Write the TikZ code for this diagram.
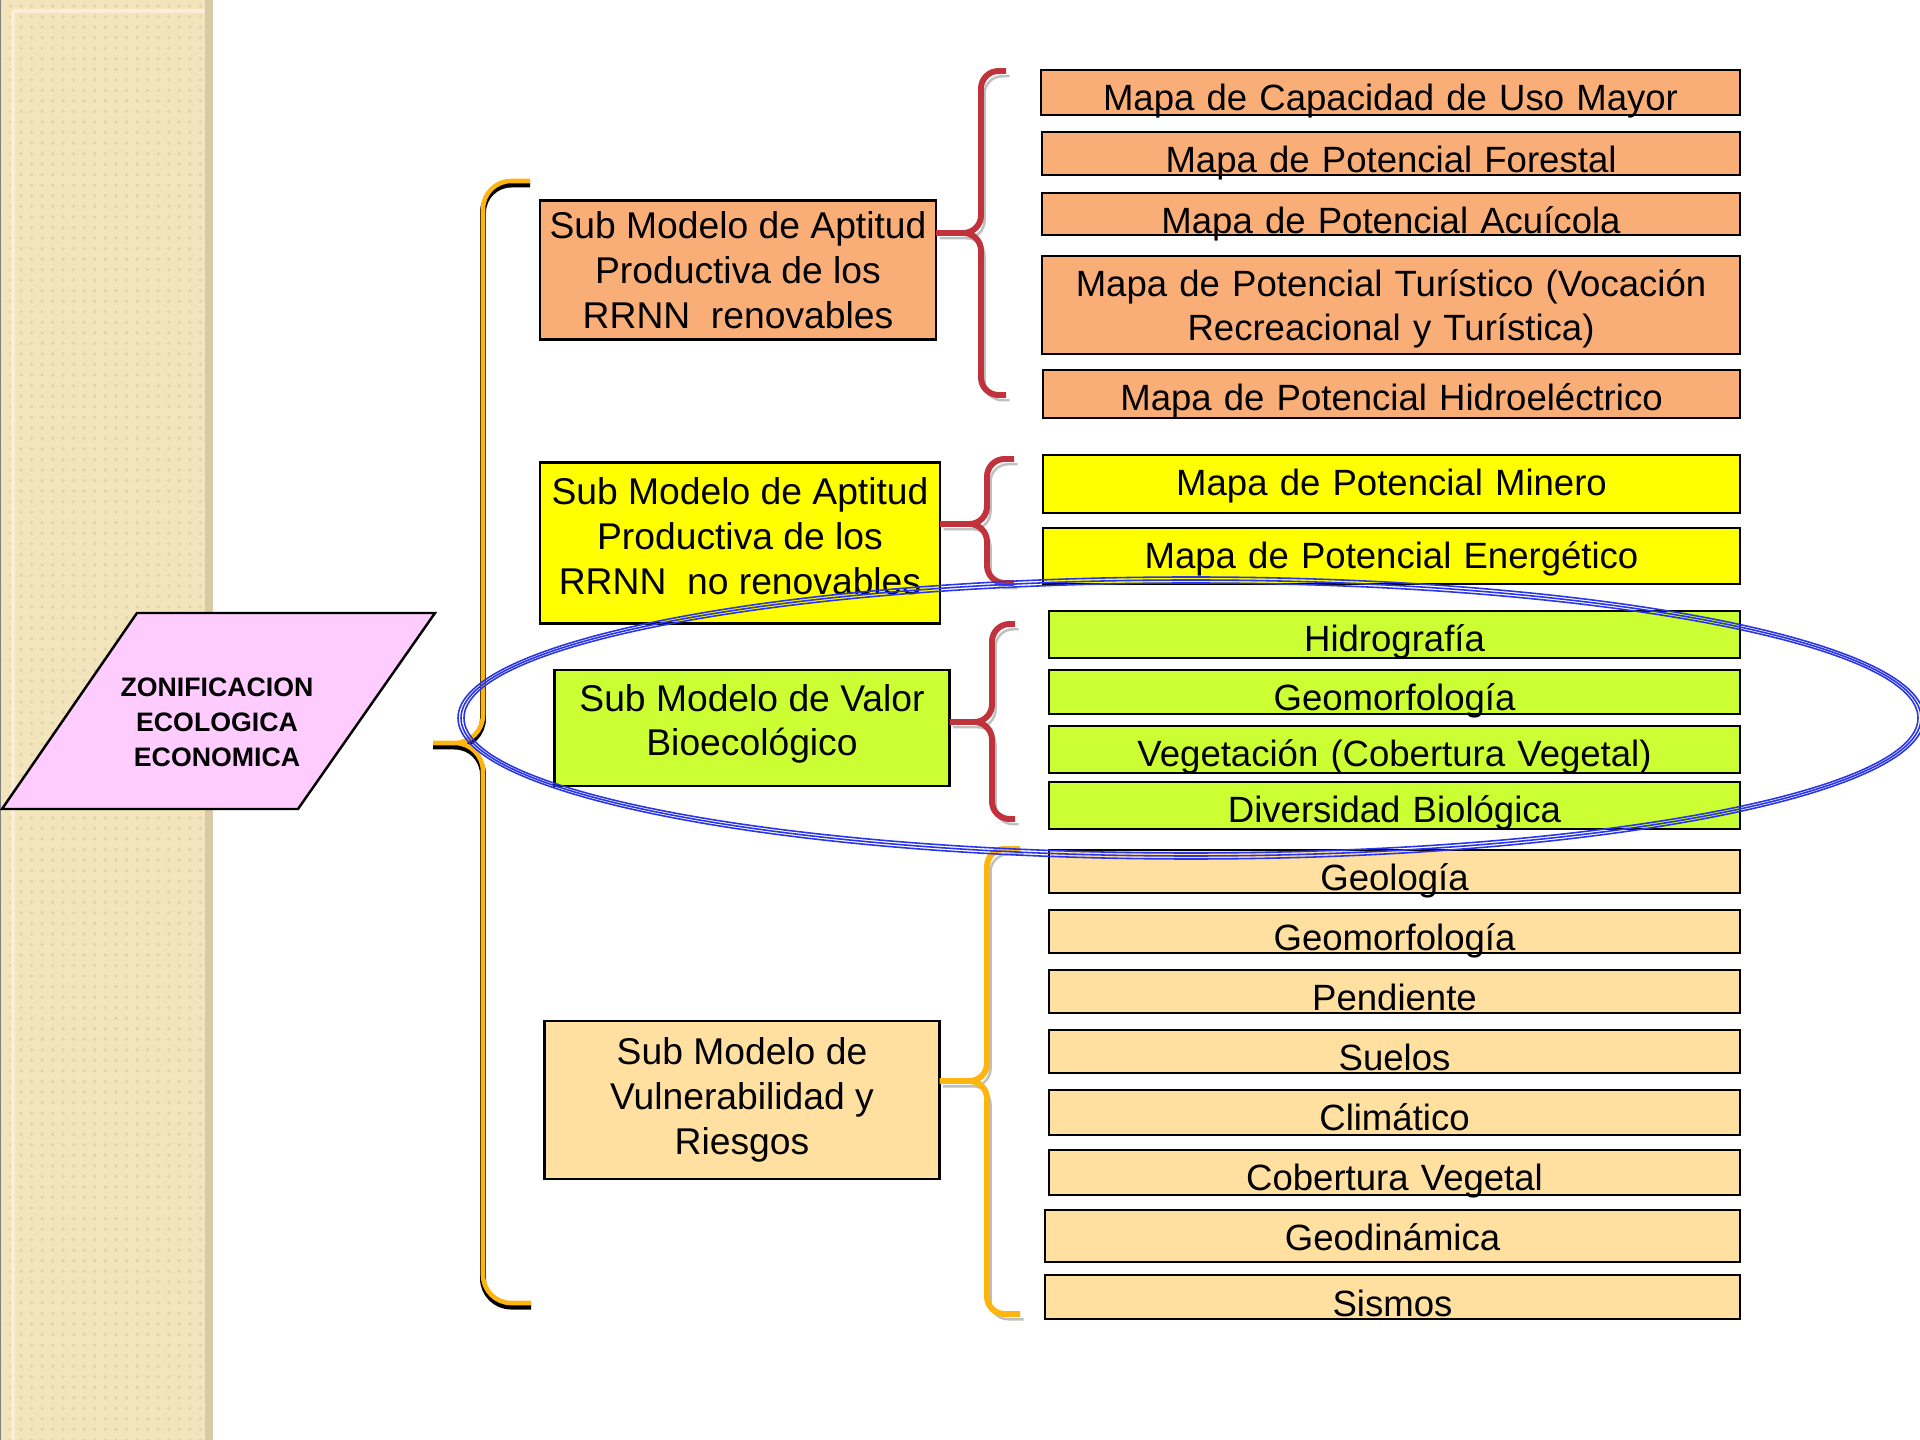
\documentclass[tikz,border=0pt]{standalone}
\usepackage{fontspec}
\setmainfont{Liberation Sans}
\usetikzlibrary{patterns}

\definecolor{salmon}{HTML}{F9AE78}
\definecolor{amarillo}{HTML}{FFFF00}
\definecolor{verde}{HTML}{CCFF33}
\definecolor{crema}{HTML}{FFE0A0}
\definecolor{rosa}{HTML}{FFCCFF}
\definecolor{rojo}{HTML}{C0323C}
\definecolor{naranja}{HTML}{FFB50F}
\definecolor{azul}{HTML}{2A35E8}
\definecolor{papel}{HTML}{F2E5BC}
\definecolor{papelborde}{HTML}{D8CBA4}

\begin{document}
\begin{tikzpicture}[x=0.1mm, y=-0.1mm, line width=0.7pt,
    font=\fontsize{10.6}{12.8}\selectfont,
    submodelo/.style={draw, align=center, inner sep=0pt, outer sep=0pt},
    mapa/.style={draw, align=center, anchor=north west, inner xsep=0pt, inner ysep=0pt,
        outer sep=0pt, text height=4.1mm, font=\fontsize{10.4}{12.5}\selectfont},
    llaveroja/.style={draw=rojo, line width=1.7pt, rounded corners=5pt,
        preaction={draw=black, opacity=.25, transform canvas={shift={(1pt,-1.5pt)}}}},
    llavenaranja/.style={llaveroja, draw=naranja},
    llavegrande/.style={draw=naranja, line width=1.3pt, rounded corners=8pt,
        preaction={draw=black, line width=1.7pt, transform canvas={shift={(0pt,-1pt)}}}},
    ovalo/.style={draw=azul, line width=0.45pt}]
    \useasboundingbox (0,0) rectangle (1920,1440);

    % Franja.
    \fill[papel] (0,0) rectangle (213,1440);
    \fill[pattern=dots, pattern color=papelborde!70!papel] (0,0) rectangle (205,1440);
    \fill[papelborde] (205,0) rectangle (213,1440);
    \draw[orange!15!white, line width=1pt] (13,11) -- (13,1440);
    \draw[orange!15!white, line width=1pt] (13,11) -- (205,11);
    \draw[gray, line width=.5pt] (0.5,0) -- (0.5,1440);

    % ZEE.
    \filldraw[fill=rosa] (2,809) -- (137,613) -- (435,613) -- (298,809) -- cycle;
    \node[font=\bfseries\fontsize{7.6}{10}\selectfont, align=center] (zee) at (217,722)
        {ZONIFICACION\\ECOLOGICA\\ECONOMICA};

    % Sub modelos.
    \node[submodelo, fill=salmon, minimum width=39.6mm, minimum height=13.9mm] (sa) at (738,270)
        {Sub Modelo de Aptitud\\Productiva de los\\RRNN\ \ renovables};
    \node[submodelo, fill=amarillo, minimum width=40mm, minimum height=16.1mm, text depth=1.4mm] (sb) at (740,543)
        {Sub Modelo de Aptitud\\Productiva de los\\RRNN\ \ no renovables};
    \node[submodelo, fill=verde, minimum width=39.5mm, minimum height=11.6mm, text depth=1.6mm] (sc) at (752,728)
        {Sub Modelo de Valor\\Bioecológico};
    \node[submodelo, fill=crema, minimum width=39.5mm, minimum height=15.8mm] (sd) at (742,1100)
        {Sub Modelo de\\Vulnerabilidad y\\Riesgos};

    % Mapas.
    \foreach \nm/\xl/\yt/\yb/\col/\txt in {
        m1/1041/70/115/salmon/{Mapa de Capacidad de Uso Mayor},
        m2/1042/132/175/salmon/{Mapa de Potencial Forestal},
        m3/1042/193/235/salmon/{Mapa de Potencial Acuícola},
        m4/1042/256/354/salmon/{Mapa de Potencial Turístico (Vocación\\Recreacional y Turística)},
        m5/1043/370/418/salmon/{Mapa de Potencial Hidroeléctrico},
        m6/1043/455/513/amarillo/{Mapa de Potencial Minero},
        m7/1043/528/584/amarillo/{Mapa de Potencial Energético},
        g1/1049/611/658/verde/{Hidrografía},
        g2/1049/670/714/verde/{Geomorfología},
        g3/1049/726/773/verde/{Vegetación (Cobertura Vegetal)},
        g4/1049/782/829/verde/{Diversidad Biológica},
        v1/1049/850/893/crema/{Geología},
        v2/1049/910/953/crema/{Geomorfología},
        v3/1049/970/1013/crema/{Pendiente},
        v4/1049/1030/1073/crema/{Suelos},
        v5/1049/1090/1135/crema/{Climático},
        v6/1049/1150/1195/crema/{Cobertura Vegetal},
        v7/1045/1210/1262/crema/{Geodinámica},
        v8/1045/1275/1319/crema/{Sismos}}
    {
        \pgfmathsetmacro{\dd}{(\yb-\yt)*0.1-4.1}
        \pgfmathsetmacro{\ww}{(1740-\xl)*0.1}
        \node[mapa, fill=\col, text depth=\dd mm, text width=\ww mm] (\nm) at (\xl,\yt) {\txt};
    }

    % Llaves.
    \coordinate (pa) at (981,233);
    \coordinate (pb) at (987,524);
    \coordinate (pc) at (992,722);
    \coordinate (pd) at (987,1081);
    \coordinate (pz) at (483,743);
    \coordinate (zeepunta) at (433,743);
    \draw[llaveroja] (1006,71) -- (981,71) -- (pa) -- (sa.east |- pa)
        (1006,395) -- (981,395) -- (pa) -- (sa.east |- pa);
    \draw[llaveroja] (1014,459) -- (987,459) -- (pb) -- (sb.east |- pb)
        (1014,583) -- (987,583) -- (pb) -- (sb.east |- pb);
    \draw[llaveroja] (1015,624) -- (992,624) -- (pc) -- (sc.east |- pc)
        (1015,819) -- (992,819) -- (pc) -- (sc.east |- pc);
    \draw[llavenaranja] (1020,849) -- (987,849) -- (pd) -- (sd.east |- pd)
        (1020,1314) -- (987,1314) -- (pd) -- (sd.east |- pd);
    \draw[llavegrande] (530,181) -- (483,181) -- (pz) -- (zeepunta)
        (531,1303) -- (483,1303) -- (pz) -- (zeepunta);

    % Ovalo.
    \foreach \d in {0,3,6}
    {
        \draw[ovalo] (1191,718) ellipse [x radius=727+\d, y radius=135+\d];
    }
\end{tikzpicture}
\end{document}
